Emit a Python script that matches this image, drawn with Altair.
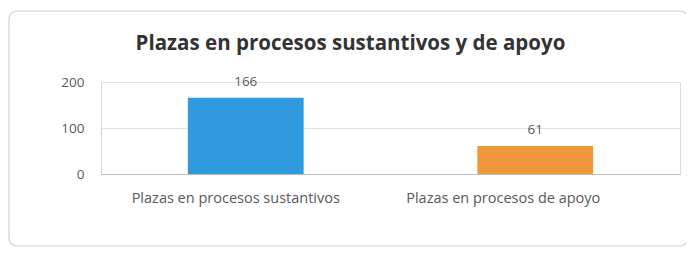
import altair as alt
import pandas as pd

categories = ["Plazas en procesos sustantivos", "Plazas en procesos de apoyo"]
values = [166, 61]
colors = ["#2F9BDE", "#F0963C"]
y_ticks = [0, 100, 200]
title_text = "Plazas en procesos sustantivos y de apoyo"

df = pd.DataFrame({"cat": categories, "val": values, "color": colors})

FONT = "Open Sans"

x_enc = alt.X(
    "cat:N",
    sort=categories,
    title=None,
    scale=alt.Scale(paddingInner=0.6, paddingOuter=0.3),
    axis=alt.Axis(
        labelAngle=0, labelFont=FONT, labelFontSize=14.5, labelColor="#595959",
        labelPadding=17, ticks=False, domainColor="#bfbfbf", domainWidth=1,
        grid=False, labelLimit=300,
        labelOffset=alt.ExprRef("datum.index > 0.5 ? -32 : -10"),
    ),
)
y_enc = alt.Y(
    "val:Q",
    title=None,
    scale=alt.Scale(domain=[0, 200], nice=False),
    axis=alt.Axis(
        values=y_ticks, labelFont=FONT, labelFontSize=13.5, labelColor="#595959",
        labelPadding=17, ticks=False, domainColor="#d9d9d9", gridColor="#e3e3e3",
        grid=True,
    ),
)

frame = alt.Chart(alt.Data(values=[{"a": 1}])).mark_rect(
    fill=None, stroke="#d0d0d0", strokeWidth=1.2, cornerRadius=8
).encode(
    x=alt.value(-92), x2=alt.value(587), y=alt.value(-71), y2=alt.value(164)
)

bars = alt.Chart(df).mark_bar().encode(
    x=x_enc, y=y_enc, color=alt.Color("color:N", scale=None)
)

labels = alt.Chart(df).mark_text(
    baseline="bottom", dy=-9, font=FONT, fontSize=13.5, color="#595959"
).encode(x=alt.X("cat:N", sort=categories), y="val:Q", text="val:Q")

chart = alt.layer(bars, labels, frame).properties(
    width=579,
    height=92,
    padding={"left": 93, "top": 74, "right": 6, "bottom": 74},
    autosize=alt.AutoSizeParams(type="none"),
    title=alt.TitleParams(
        title_text, font=FONT, fontSize=20.5, fontWeight="bold", color="#333333",
        anchor="middle", frame="group", dx=-40, offset=-44,
    ),
).configure_view(stroke=None).configure(background="white")

chart.save("out.html", embed_options={"renderer": "svg", "actions": False})
